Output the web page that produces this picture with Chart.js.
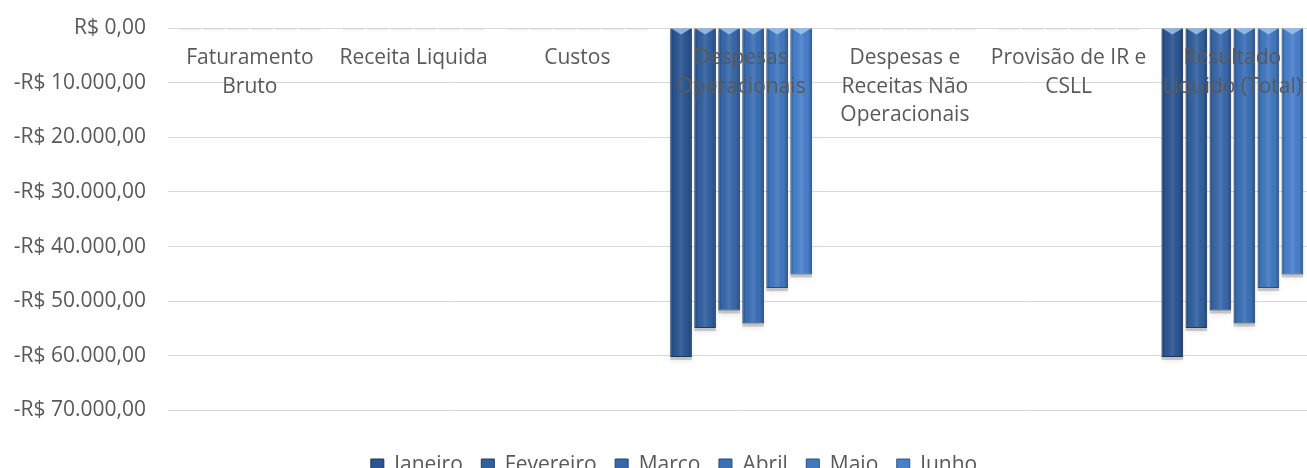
<!DOCTYPE html>
<html lang="pt-BR">
<head>
<meta charset="utf-8">
<title>Demonstrativo</title>
<script src="https://cdn.jsdelivr.net/npm/chart.js@4/dist/chart.umd.min.js"></script>
<style>
    html, body { margin: 0; padding: 0; background: #fff; overflow: hidden; }
    .chart-box { width: 1318px; height: 486px; position: relative; }
</style>
</head>
<body>
<div class="chart-box"><canvas id="dreChart"></canvas></div>
<script>
// --- DADOS ---
const categorias = [
    ['Faturamento', 'Bruto'],
    ['Receita Liquida'],
    ['Custos'],
    ['Despesas', 'Operacionais'],
    ['Despesas e', 'Receitas Não', 'Operacionais'],
    ['Provisão de IR e', 'CSLL'],
    ['Resultado', 'Liquido (Total)']
];
const meses = ['Janeiro', 'Fevereiro', 'Marco', 'Abril', 'Maio', 'Junho'];

const janeiro   = [0, 0, 0, -60200, 0, 0, -60200];
const fevereiro = [0, 0, 0, -54900, 0, 0, -54900];
const marco     = [0, 0, 0, -51700, 0, 0, -51700];
const abril     = [0, 0, 0, -54100, 0, 0, -54100];
const maio      = [0, 0, 0, -47600, 0, 0, -47600];
const junho     = [0, 0, 0, -45100, 0, 0, -45100];

const eixoMin = -70000;
const eixoMax = 0;
const eixoPasso = 10000;

// cores (tons de azul, do mais escuro ao mais claro)
const cores  = ['#2b5592', '#31609f', '#3768ab', '#3b6fb6', '#4178c1', '#4880cc'];
const bordas = ['#1a365f', '#1e3d69', '#224473', '#25497b', '#284f83', '#2c568b'];

const fonte = "'Open Sans', sans-serif";
const cinza = '#595959';

function formataReal(v) {
    const abs = Math.abs(v);
    const inteiro = String(abs).replace(/\B(?=(\d{3})+(?!\d))/g, '.');
    return (v < 0 ? '-R$ ' : 'R$ ') + inteiro + ',00';
}

function barras(chart, fn) {
    chart.data.datasets.forEach((ds, i) => {
        chart.getDatasetMeta(i).data.forEach(bar => {
            const p = bar.getProps(['x', 'y', 'base', 'width'], true);
            fn(p, p.x - p.width / 2, p.x + p.width / 2, p.y - p.base);
        });
    });
}

// sombra + brilho das barras (efeito 3D do Excel)
const efeitoBarras = {
    id: 'efeitoBarras',
    afterLayout(chart) {
        // legenda do original fica um pouco deslocada para a direita
        if (chart.legend) {
            chart.legend.left += 15;
            chart.legend.right += 15;
        }
    },
    beforeDatasetsDraw(chart) {
        const c = chart.ctx;
        c.save();
        c.shadowBlur = 5;
        c.shadowOffsetY = 2;
        barras(chart, (p, l, r, h) => {
            const zero = h < 3;
            c.fillStyle = zero ? 'rgba(0,0,0,0.04)' : 'rgba(0,0,0,0.18)';
            c.shadowColor = zero ? 'rgba(0,0,0,0.12)' : 'rgba(0,0,0,0.45)';
            c.fillRect(l, p.base, r - l, h + 3);
        });
        c.restore();
    },
    afterDatasetsDraw(chart) {
        const c = chart.ctx;
        c.save();
        barras(chart, (p, l, r, h) => {
            if (h < 3) return;
            const g = c.createLinearGradient(l, 0, r, 0);
            g.addColorStop(0, 'rgba(0,0,0,0.30)');
            g.addColorStop(0.18, 'rgba(0,0,0,0.02)');
            g.addColorStop(0.5, 'rgba(255,255,255,0.10)');
            g.addColorStop(0.82, 'rgba(0,0,0,0.02)');
            g.addColorStop(1, 'rgba(0,0,0,0.32)');
            c.fillStyle = g;
            c.fillRect(l + 1, p.base, r - l - 2, h - 1);
            // chanfro no topo
            c.fillStyle = 'rgba(160,200,245,0.8)';
            c.beginPath();
            c.moveTo(l + 1, p.base);
            c.lineTo(r - 1, p.base);
            c.lineTo(p.x, p.base + 6);
            c.closePath();
            c.fill();
        });
        c.restore();
    }
};

document.addEventListener('DOMContentLoaded', () => {
    const ctx = document.getElementById('dreChart');
    const series = [janeiro, fevereiro, marco, abril, maio, junho];

    new Chart(ctx, {
        type: 'bar',
        data: {
            labels: categorias,
            datasets: series.map((dados, i) => ({
                label: meses[i],
                data: dados,
                backgroundColor: cores[i],
                borderColor: bordas[i],
                borderWidth: 1,
                barPercentage: 0.9,
                categoryPercentage: 0.88
            }))
        },
        options: {
            responsive: true,
            maintainAspectRatio: false,
            animation: false,
            layout: { padding: { top: 28, bottom: 0, left: 0, right: 0 } },
            scales: {
                x: {
                    position: { y: 0 },
                    grid: { display: false, drawTicks: false },
                    border: { display: false },
                    ticks: {
                        z: 1,
                        padding: 16,
                        maxRotation: 0,
                        autoSkip: false,
                        color: cinza,
                        font: { family: fonte, size: 21, lineHeight: 1.36 }
                    },
                    afterFit: (scale) => {
                        scale.height = 0;
                        scale.paddingTop = 0;
                        scale.paddingBottom = 0;
                    }
                },
                y: {
                    min: eixoMin,
                    max: eixoMax,
                    grid: { color: '#d9d9d9', drawTicks: false },
                    border: { display: false },
                    ticks: {
                        stepSize: eixoPasso,
                        padding: 22,
                        color: cinza,
                        font: { family: fonte, size: 21 },
                        callback: (v) => formataReal(v)
                    },
                    afterFit: (scale) => {
                        scale.width = 168;
                        scale.paddingTop = 0;
                        scale.paddingBottom = 0;
                    }
                }
            },
            plugins: {
                legend: {
                    position: 'bottom',
                    // titulo vazio so para dar respiro entre o grafico e a legenda
                    title: {
                        display: true,
                        text: ' ',
                        font: { size: 10 },
                        padding: { top: 0, bottom: 14 }
                    },
                    labels: {
                        color: cinza,
                        boxWidth: 13,
                        boxHeight: 13,
                        padding: 18.5,
                        font: { family: fonte, size: 21 }
                    }
                },
                tooltip: { enabled: false }
            }
        },
        plugins: [efeitoBarras]
    });
});
</script>
</body>
</html>
